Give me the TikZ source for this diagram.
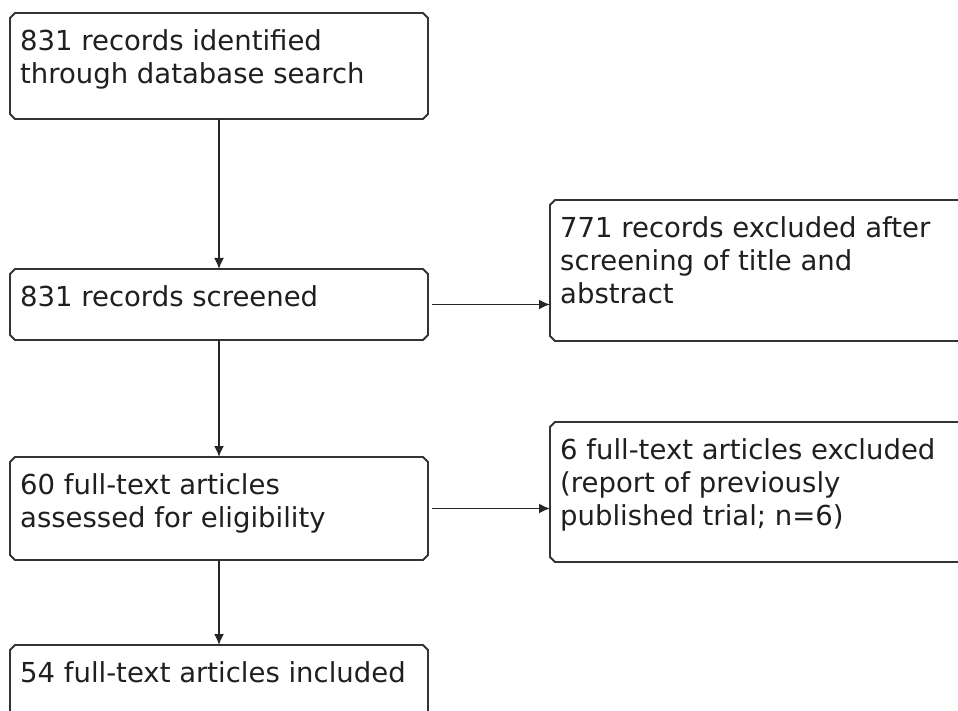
\documentclass[tikz,border=0pt]{standalone}
\usepackage{fontspec}
\setmainfont{DejaVu Sans}
\usetikzlibrary{arrows.meta,calc}
\newcommand\chbox[1]{%
  \draw[boxline] ($(#1.north west)+(5,0)$) -- ($(#1.north east)+(-5,0)$)
    -- ($(#1.north east)+(0,5)$) -- ($(#1.south east)+(0,-5)$)
    -- ($(#1.south east)+(-5,0)$) -- ($(#1.south west)+(5,0)$)
    -- ($(#1.south west)+(0,-5)$) -- ($(#1.north west)+(0,5)$) -- cycle;}
\begin{document}
\begin{tikzpicture}[x=1pt,y=-1pt,
  box/.style={rectangle, inner sep=0pt, outer sep=0pt, anchor=north west},
  boxline/.style={draw=black!80, line width=1.9pt, line join=miter},
  txt/.style={anchor=north west, inner sep=0pt, align=left,
    font=\fontsize{27.5}{33}\selectfont, text=black!88},
  arr/.style={draw=black!85, line width=1.7pt, -{Latex[length=11pt,width=10pt]}}]
\useasboundingbox (0,0) rectangle (958,711);
\clip (0,0) rectangle (958,711);
\node[box, minimum width=418pt, minimum height=106pt] (b1) at (10,13) {};
\node[box, minimum width=418pt, minimum height=71pt] (b2) at (10,269) {};
\node[box, minimum width=418pt, minimum height=103pt] (b3) at (10,457) {};
\node[box, minimum width=418pt, minimum height=100pt] (b4) at (10,645) {};
\node[box, minimum width=430pt, minimum height=141pt] (bA) at (550,200) {};
\node[box, minimum width=430pt, minimum height=140pt] (bB) at (550,422) {};
\chbox{b1}\chbox{b2}\chbox{b3}\chbox{b4}\chbox{bA}\chbox{bB}

\node[txt] (t1) at ($(b1.north west)+(10,16)$) {831 records identified\\through database search};
\node[txt] (t2) at ($(b2.north west)+(10,16)$) {831 records screened};
\node[txt] (t3) at ($(b3.north west)+(10,16)$) {60 full-text articles\\assessed for eligibility};
\node[txt] (t4) at ($(b4.north west)+(10,16)$) {54 full-text articles included};
\node[txt] (tA) at ($(bA.north west)+(10,16)$) {771 records excluded after\\screening of title and\\abstract};
\node[txt] (tB) at ($(bB.north west)+(10,16)$) {6 full-text articles excluded\\(report of previously\\published trial; n=6)};

\draw[arr] (b1.south) -- (b2.north);
\draw[arr] (b2.south) -- (b3.north);
\draw[arr] (b3.south) -- (b4.north);
\draw[arr, shorten <=4pt] (b2.east) -- (bA.west |- b2.east);
\draw[arr, shorten <=4pt] (b3.east) -- (bB.west |- b3.east);
\end{tikzpicture}
\end{document}
